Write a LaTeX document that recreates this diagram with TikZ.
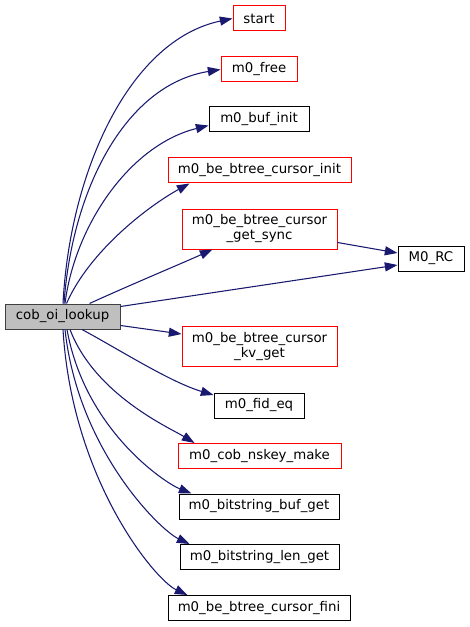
\documentclass[tikz,border=0pt]{standalone}
\usepackage{fontspec}
\setmainfont{DejaVu Sans}
\usetikzlibrary{arrows.meta,calc}
\definecolor{edgeblue}{HTML}{191970}
\definecolor{nodegray}{HTML}{BFBFBF}
\definecolor{redline}{HTML}{FF0000}
\tikzset{
  fn/.style={draw=black, line width=0.75pt, inner sep=0pt, minimum height=18.75pt, align=center, font=\fontsize{10}{11.25}\selectfont},
  fnred/.style={fn, draw=redline},
  fncur/.style={fn, draw=black!75, fill=nodegray},
  tall/.style={minimum height=30pt},
  edge/.style={draw=edgeblue, line width=0.8pt, -{Triangle[length=9.5pt,width=6.8pt]}}
}
\begin{document}
\begin{tikzpicture}[x=0.75pt,y=-0.75pt]
\useasboundingbox (0,0) rectangle (469,627);
\node[fnred, minimum width=39pt] (start) at (259,18.5) {start};
\node[fnred, minimum width=57pt] (free) at (259,69.5) {m0\_free};
\node[fn, minimum width=75pt] (bufinit) at (259,119.5) {m0\_buf\_init};
\node[fnred, minimum width=137.25pt] (cinit) at (259.5,170.5) {m0\_be\_btree\_cursor\_init};
\node[fnred, tall, minimum width=116.25pt] (sync) at (259.5,229) {m0\_be\_btree\_cursor\\\_get\_sync};
\node[fn, minimum width=49.5pt] (rc) at (431,258.5) {M0\_RC};
\node[fncur, minimum width=86.25pt] (cob) at (62.5,316.5) {cob\_oi\_lookup};
\node[fnred, tall, minimum width=116.25pt] (kv) at (259.5,346.5) {m0\_be\_btree\_cursor\\\_kv\_get};
\node[fn, minimum width=67.5pt] (fid) at (259,405.5) {m0\_fid\_eq};
\node[fnred, minimum width=122.25pt] (nskey) at (259.5,456) {m0\_cob\_nskey\_make};
\node[fn, minimum width=120pt] (bbuf) at (259,506.5) {m0\_bitstring\_buf\_get};
\node[fn, minimum width=119.25pt] (blen) at (259.5,557) {m0\_bitstring\_len\_get};
\node[fn, minimum width=136.5pt] (fini) at (259,608) {m0\_be\_btree\_cursor\_fini};

\draw[edge] ($(cob.north)+(0.5,0)$) .. controls (70,170) and (130,40) .. (start.west);
\draw[edge] ($(cob.north)+(1.5,0)$) .. controls (72,190) and (125,85) .. (free.west);
\draw[edge] ($(cob.north)+(2.5,0)$) .. controls (75,225) and (130,145) .. ($(bufinit.west)+(0,6)$);
\draw[edge] ($(cob.north)+(4,0)$) .. controls (90,250) and (150,205) .. ($(cinit.south west)+(22,0)$);
\draw[edge] ($(cob.north)+(27,0)$) .. controls (130,285) and (185,262) .. ($(sync.south west)+(31,0)$);
\draw[edge] ($(sync.south east)+(0,-7)$) -- ($(rc.west)+(0,-5.5)$);
\draw[edge] ($(cob.north east)+(0,3)$) -- ($(rc.west)+(0,6.5)$);
\draw[edge] ($(cob.south east)+(0,-4)$) -- ($(kv.north west)+(0,8)$);
\draw[edge] ($(cob.south)+(19.5,0)$) .. controls (120,350) and (170,382) .. ($(fid.west)+(0,-10.5)$);
\draw[edge] ($(cob.south)+(7.5,0)$) .. controls (95,395) and (170,428) .. ($(nskey.north west)+(17,0)$);
\draw[edge] ($(cob.south)+(4.5,0)$) .. controls (85,430) and (165,483) .. ($(bbuf.north west)+(13,0)$);
\draw[edge] ($(cob.south)+(2.5,0)$) .. controls (78,450) and (160,530) .. ($(blen.north west)+(10,0)$);
\draw[edge] ($(cob.south)+(0.5,0)$) .. controls (72,480) and (155,580) .. ($(fini.north west)+(20,0)$);
\end{tikzpicture}
\end{document}
